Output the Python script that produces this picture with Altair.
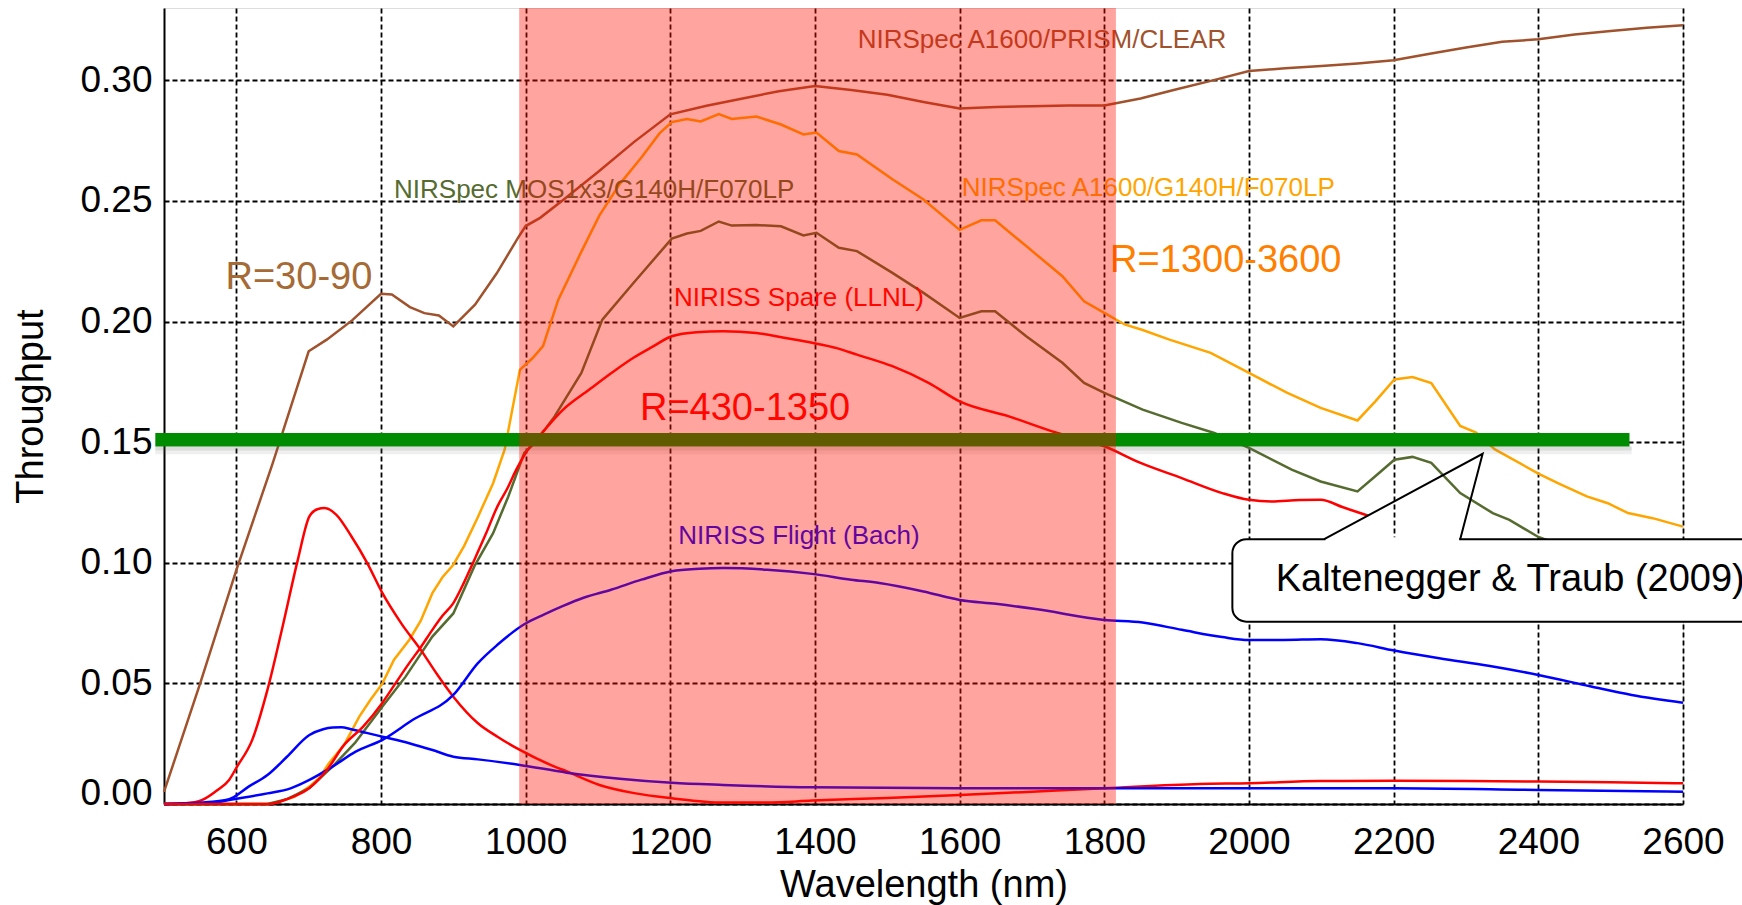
import altair as alt
import pandas as pd

FONT = "Liberation Sans"

# ---------------- data ----------------
prism_wl = [500, 550, 600, 650, 700, 725, 760, 800, 815, 840, 860, 880, 900, 930, 960,
            990, 1000, 1020, 1050, 1100, 1150, 1200, 1250, 1300, 1350, 1400, 1450, 1500,
            1550, 1600, 1650, 1700, 1750, 1800, 1850, 1900, 1950, 2000, 2050, 2100, 2150,
            2200, 2250, 2300, 2350, 2400, 2450, 2500, 2550, 2600]
prism_tp = [0.005, 0.050, 0.097, 0.141, 0.1877, 0.1925, 0.2005, 0.2115, 0.2112, 0.2060,
            0.2035, 0.2025, 0.1980, 0.2070, 0.2200, 0.2350, 0.2396, 0.2430, 0.2500, 0.2620,
            0.2745, 0.2859, 0.2895, 0.2925, 0.2955, 0.2977, 0.2960, 0.2940, 0.2910, 0.2883,
            0.2890, 0.2893, 0.2896, 0.2896, 0.2925, 0.2963, 0.3000, 0.3039, 0.3050, 0.3060,
            0.3070, 0.3083, 0.3110, 0.3136, 0.3160, 0.3170, 0.3190, 0.3205, 0.3218, 0.3228]

g140h_wl = [500, 600, 645, 660, 680, 701, 715, 728, 749, 770, 785, 802, 818, 839, 855, 871,
            885, 900, 915, 934, 955, 971, 992, 1010, 1024, 1045, 1077, 1102, 1130, 1160, 1185,
            1202, 1223, 1242, 1267, 1285, 1319, 1353, 1384, 1402, 1433, 1458, 1507, 1550, 1600,
            1630, 1649, 1692, 1742, 1772, 1800, 1828, 1853, 1890, 1947, 2000, 2053, 2099, 2150,
            2175, 2201, 2226, 2252, 2292, 2314, 2340, 2400, 2427, 2467, 2496, 2524, 2558, 2600]
g140h_tp = [0, 0, 0, 0.001, 0.003, 0.0072, 0.011, 0.0169, 0.0245, 0.0362, 0.043, 0.050,
            0.0598, 0.068, 0.076, 0.0874, 0.094, 0.0992, 0.107, 0.119, 0.133, 0.147, 0.180,
            0.185, 0.1898, 0.209, 0.229, 0.244, 0.257, 0.268, 0.278, 0.2827, 0.284, 0.283,
            0.286, 0.284, 0.285, 0.2817, 0.2776, 0.2784, 0.2707, 0.2693, 0.259, 0.2506, 0.238,
            0.242, 0.242, 0.2313, 0.2188, 0.2084, 0.2036, 0.1988, 0.1965, 0.1925, 0.187,
            0.1787, 0.1704, 0.1642, 0.159, 0.167, 0.176, 0.177, 0.1745, 0.1567, 0.154, 0.147,
            0.137, 0.133, 0.1275, 0.1247, 0.1206, 0.1185, 0.115]

mos_wl = [500, 600, 643, 670, 701, 733, 764, 802, 834, 871, 900, 929, 955, 976, 998, 1013,
          1040, 1077, 1106, 1149, 1202, 1223, 1242, 1267, 1285, 1319, 1353, 1384, 1402, 1433,
          1458, 1507, 1550, 1600, 1630, 1649, 1692, 1742, 1772, 1800, 1853, 1907, 1952, 2000,
          2059, 2099, 2150, 2175, 2201, 2226, 2252, 2292, 2337, 2360, 2400, 2420]
mos_tp = [0, 0, 0, 0.002, 0.0066, 0.0155, 0.0253, 0.0404, 0.0528, 0.0694, 0.079, 0.0985,
          0.1123, 0.1275, 0.1455, 0.1498, 0.1607, 0.1787, 0.2008, 0.216, 0.2344, 0.2365,
          0.2376, 0.2415, 0.2398, 0.240, 0.2395, 0.2357, 0.2368, 0.2306, 0.2292, 0.2202,
          0.2119, 0.2015, 0.2043, 0.2043, 0.1939, 0.1829, 0.1746, 0.1704, 0.1635, 0.158,
          0.1538, 0.1476, 0.1386, 0.1337, 0.1296, 0.136, 0.1427, 0.1439, 0.1414, 0.1289,
          0.1206, 0.1178, 0.1107, 0.1085]

spare_wl = [500, 600, 645, 670, 701, 725, 749, 775, 802, 820, 839, 855, 871, 885, 900, 915,
            929, 945, 961, 975, 987, 1001, 1026, 1050, 1088, 1120, 1149, 1175, 1202, 1236,
            1273, 1319, 1359, 1396, 1430, 1458, 1507, 1557, 1600, 1668, 1735, 1800, 1850,
            1907, 1963, 2000, 2031, 2070, 2099, 2130, 2165]
spare_tp = [0, 0, 0, 0.002, 0.0066, 0.014, 0.0245, 0.032, 0.042, 0.050, 0.0584, 0.065,
            0.0722, 0.078, 0.0833, 0.092, 0.1012, 0.112, 0.1234, 0.131, 0.1386, 0.146, 0.155,
            0.163, 0.1718, 0.179, 0.185, 0.1895, 0.1939, 0.1956, 0.196, 0.1953, 0.1932,
            0.1912, 0.189, 0.1863, 0.1815, 0.1746, 0.1669, 0.1607, 0.1538, 0.1483, 0.1414,
            0.1351, 0.1289, 0.1261, 0.1254, 0.126, 0.1261, 0.123, 0.1195]

spare2_wl = [500, 530, 553, 574, 590, 601, 622, 643, 664, 685, 701, 712, 722, 738, 759, 781,
             802, 828, 855, 877, 900, 934, 961, 992, 1040, 1057, 1102, 1150, 1202, 1273, 1334,
             1396, 1500, 1600, 1700, 1800, 1932, 2000, 2099, 2201, 2300, 2400, 2500, 2600]
spare2_tp = [0, 0.0003, 0.0017, 0.0058, 0.010, 0.0155, 0.0266, 0.0473, 0.0736, 0.1012,
             0.1192, 0.1222, 0.1227, 0.12, 0.111, 0.0999, 0.0874, 0.0749, 0.0639, 0.054,
             0.0445, 0.0335, 0.0279, 0.0224, 0.0155, 0.0135, 0.0079, 0.0045, 0.0024, 0.0006,
             0.0006, 0.0014, 0.0025, 0.0037, 0.0051, 0.0065, 0.0083, 0.0086, 0.0095, 0.0096,
             0.0095, 0.0093, 0.009, 0.0086]

flight_wl = [500, 564, 590, 643, 675, 701, 733, 765, 802, 844, 900, 934, 961, 998, 1025,
             1051, 1080, 1118, 1160, 1202, 1240, 1273, 1334, 1396, 1450, 1489, 1550, 1600,
             1650, 1705, 1800, 1853, 1907, 1963, 2000, 2048, 2099, 2150, 2201, 2263, 2331,
             2400, 2473, 2529, 2600]
flight_tp = [0, 0.0003, 0.0017, 0.0044, 0.0065, 0.010, 0.0155, 0.0217, 0.0266, 0.0349,
             0.0452, 0.0584, 0.066, 0.0745, 0.0785, 0.082, 0.0855, 0.0888, 0.093, 0.0965,
             0.0975, 0.0978, 0.0971, 0.0954, 0.093, 0.0916, 0.0881, 0.0846, 0.083, 0.0808,
             0.0763, 0.0752, 0.0722, 0.0692, 0.068, 0.068, 0.0683, 0.0667, 0.0636, 0.0604,
             0.0573, 0.0535, 0.0487, 0.0452, 0.042]

flight2_wl = [500, 553, 590, 617, 643, 670, 701, 720, 733, 745, 759, 780, 802, 839, 870,
              900, 934, 992, 1057, 1130, 1202, 1273, 1396, 1600, 1800, 2000, 2200, 2400, 2600]
flight2_tp = [0, 0.0006, 0.002, 0.0072, 0.012, 0.0196, 0.0286, 0.031, 0.0317, 0.0318,
              0.031, 0.0295, 0.0279, 0.0252, 0.0225, 0.0196, 0.0185, 0.0162, 0.013, 0.0105,
              0.0088, 0.0079, 0.0069, 0.0065, 0.0065, 0.0065, 0.0065, 0.0058, 0.0051]

line_colors = {
    "prism": "#A0522D", "g140h": "#FFA500", "mos": "#556B2F",
    "spare": "#FF0000", "spare2": "#FF0000", "flight": "#0000FF", "flight2": "#0000FF",
}

label_text = ["NIRSpec A1600/PRISM/CLEAR", "NIRSpec MOS1x3/G140H/F070LP",
              "NIRSpec A1600/G140H/F070LP", "R=30-90", "R=1300-3600",
              "NIRISS Spare (LLNL)", "R=430-1350", "NIRISS Flight (Bach)"]
label_x = [1459, 818, 1603, 585, 1808, 1205, 1158, 1211]
label_y = [0.3133, 0.2513, 0.252, 0.2136, 0.2205, 0.2064, 0.159, 0.1077]
label_color = ["#A0522D", "#556B2F", "#FFA500", "#A56A35", "#FF8000",
               "#FF0000", "#FF0000", "#0000FF"]
label_size = [26, 26, 26, 38, 38, 26, 38, 26]

x_ticks = [600, 800, 1000, 1200, 1400, 1600, 1800, 2000, 2200, 2400, 2600]
y_ticks = [0.0, 0.05, 0.10, 0.15, 0.20, 0.25, 0.30]

band_range = [991, 1816]           # shaded wavelength band
bar_range = [488, 2526]            # green threshold bar, x extent
bar_level = [0.1482, 0.1538]       # green threshold bar, y extent
callout_box = [1977, 2720, 0.0756, 0.1098]
pointer_x = [2104, 2323, 2292]
pointer_y = [0.1098, 0.1452, 0.1098]
callout_text = "Kaltenegger & Traub (2009)"
callout_pos = [2037, 0.0881]

# ---------------- scales / axes ----------------
x_scale = alt.Scale(domain=[500, 2600], nice=False, zero=False)
y_scale = alt.Scale(domain=[0, 0.33], nice=False, zero=False)

grid_common = dict(grid=True, gridColor="black", gridDash=[5, 3], gridWidth=1.8,
                   gridOpacity=1, ticks=False, tickSize=0, domainColor="black",
                   domainWidth=2, labelFont=FONT, labelFontSize=37, labelColor="black",
                   titleFont=FONT, titleFontSize=38, titleFontWeight="normal",
                   titleColor="black")

x_axis = alt.Axis(values=x_ticks, format="d", labelPadding=49, labelBaseline="alphabetic",
                  labelAlign="center", labelFlush=False, labelOverlap=False,
                  titleX=759.5, titleY=92, titleAlign="center", titleBaseline="alphabetic",
                  **grid_common)
y_axis = alt.Axis(values=y_ticks, format=".2f", labelPadding=12, labelAlign="right",
                  labelBaseline={"condition": {"test": "datum.value == 0",
                                               "value": "alphabetic"},
                                 "value": "middle"},
                  labelFlush=False, labelOverlap=False,
                  titleX=-122, titleY=398, titleAngle=270, titleAlign="center",
                  titleBaseline="alphabetic", **grid_common)


def X(field="x"):
    return alt.X(f"{field}:Q", scale=x_scale, axis=x_axis, title="Wavelength (nm)")


def Y(field="y"):
    return alt.Y(f"{field}:Q", scale=y_scale, axis=y_axis, title="Throughput")


def series(name, wl, tp):
    return pd.DataFrame({"x": wl, "y": tp, "series": name, "color": line_colors[name]})


lin_df = pd.concat([series("prism", prism_wl, prism_tp),
                    series("g140h", g140h_wl, g140h_tp),
                    series("mos", mos_wl, mos_tp)])
smooth_df = pd.concat([series("spare2", spare2_wl, spare2_tp),
                       series("flight2", flight2_wl, flight2_tp),
                       series("flight", flight_wl, flight_tp),
                       series("spare", spare_wl, spare_tp)])

lines_lin = alt.Chart(lin_df).mark_line(strokeWidth=2.5, interpolate="linear").encode(
    x=X(), y=Y(), detail="series:N", color=alt.Color("color:N", scale=None))
lines_smooth = alt.Chart(smooth_df).mark_line(strokeWidth=2.5, interpolate="monotone").encode(
    x=X(), y=Y(), detail="series:N", color=alt.Color("color:N", scale=None))

labels_df = pd.DataFrame({"x": label_x, "y": label_y, "text": label_text,
                          "color": label_color, "size": label_size})
labels = alt.Chart(labels_df).mark_text(align="left", baseline="alphabetic", font=FONT).encode(
    x=X(), y=Y(), text="text:N", color=alt.Color("color:N", scale=None),
    size=alt.Size("size:Q", scale=None))

# green threshold bar with a soft shadow
shadow_df = pd.DataFrame({"x": [bar_range[0], bar_range[0]], "x2": [bar_range[1] + 3, bar_range[1] + 3],
                          "y": [bar_level[0] - 0.0016, bar_level[0] - 0.0032],
                          "y2": [bar_level[0], bar_level[0] - 0.0016],
                          "op": [0.22, 0.10]})
shadow = alt.Chart(shadow_df).mark_rect(color="#606060").encode(
    x=X(), x2="x2:Q", y=Y(), y2="y2:Q", opacity=alt.Opacity("op:Q", scale=None))
bar_df = pd.DataFrame({"x": [bar_range[0]], "x2": [bar_range[1]],
                       "y": [bar_level[0]], "y2": [bar_level[1]]})
bar = alt.Chart(bar_df).mark_rect(color="#008C00").encode(x=X(), x2="x2:Q", y=Y(), y2="y2:Q")

# callout
box_df = pd.DataFrame({"x": [callout_box[0]], "x2": [callout_box[1]],
                       "y": [callout_box[2]], "y2": [callout_box[3]]})
box = alt.Chart(box_df).mark_rect(cornerRadius=14, fill="white", stroke="black",
                                  strokeWidth=2).encode(x=X(), x2="x2:Q", y=Y(), y2="y2:Q")
gap_df = pd.DataFrame({"x": [pointer_x[0] + 1.5], "x2": [pointer_x[2] - 1.5],
                       "y": [pointer_y[0]]})
gap = alt.Chart(gap_df).mark_rule(color="white", strokeWidth=4).encode(
    x=X(), x2="x2:Q", y=Y())
pointer_df = pd.DataFrame({"x": pointer_x, "y": pointer_y, "o": [0, 1, 2]})
pointer = alt.Chart(pointer_df).mark_line(color="black", strokeWidth=2).encode(
    x=X(), y=Y(), order="o:Q")
ctext_df = pd.DataFrame({"x": [callout_pos[0]], "y": [callout_pos[1]], "text": [callout_text]})
ctext = alt.Chart(ctext_df).mark_text(align="left", baseline="alphabetic", font=FONT,
                                      fontSize=38, color="black").encode(
    x=X(), y=Y(), text="text:N")

# translucent red band over everything
band_df = pd.DataFrame({"x": [band_range[0]], "x2": [band_range[1]], "y": [0.0], "y2": [0.33]})
band = alt.Chart(band_df).mark_rect(color="#FF1000", opacity=0.38).encode(
    x=X(), x2="x2:Q", y=Y(), y2="y2:Q")

chart = alt.layer(lines_lin, lines_smooth, labels, shadow, bar, box, gap, pointer, ctext,
                  band).properties(
    width=1519, height=796,
    autosize=alt.AutoSizeParams(type="none"),
    padding={"left": 164, "top": 8, "right": 59, "bottom": 101},
).configure_view(stroke="black", strokeWidth=2).configure(background="white")

chart.save("out.html", embed_options={"renderer": "svg", "actions": False})
